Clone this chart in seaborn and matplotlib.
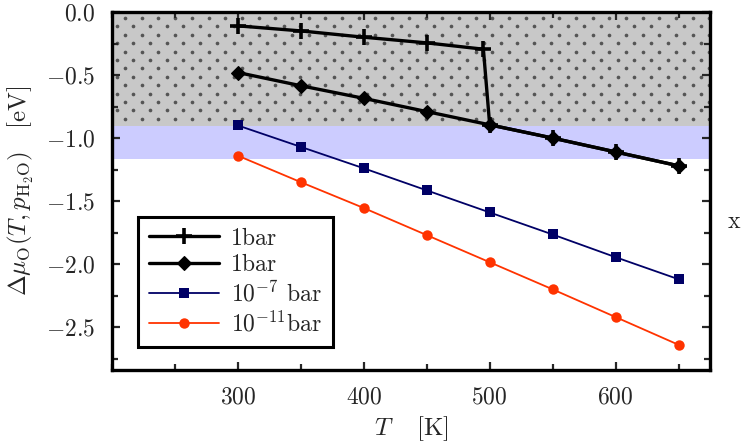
import matplotlib
matplotlib.use("Agg")
import matplotlib.pyplot as plt
import seaborn as sns
import numpy as np
from matplotlib.ticker import MultipleLocator, FuncFormatter

# Data
T_plus = [300, 350, 400, 450, 495, 500, 550, 600, 650]
mu_plus = [-0.11, -0.15, -0.20, -0.245, -0.295, -0.895, -1.00, -1.11, -1.22]
T_dia = [300, 350, 400, 450, 500, 550, 600, 650]
mu_dia = [-0.48, -0.585, -0.685, -0.79, -0.895, -1.00, -1.11, -1.22]
T_sq = [300, 350, 400, 450, 500, 550, 600, 650]
mu_sq = [-0.90, -1.07, -1.24, -1.415, -1.59, -1.765, -1.945, -2.12]
T_circ = [300, 350, 400, 450, 500, 550, 600, 650]
mu_circ = [-1.14, -1.35, -1.555, -1.77, -1.985, -2.20, -2.42, -2.64]
labels = ["1bar", "1bar", r"$10^{-7}$ bar", r"$10^{-11}$bar"]

gray_band = (-0.905, 0.0)
blue_band = (-1.167, -0.905)

sns.set_style("ticks")
plt.rcParams["font.family"] = "serif"
plt.rcParams["font.serif"] = ["cmr10", "DejaVu Serif"]
plt.rcParams["mathtext.fontset"] = "cm"
plt.rcParams["axes.formatter.use_mathtext"] = True

W, H = 743, 448
fig = plt.figure(figsize=(W / 100, H / 100), dpi=100)
ax_l, ax_b, ax_w, ax_h = 112 / W, 1 - 370 / H, 598 / W, 358 / H
ax = fig.add_axes([ax_l, ax_b, ax_w, ax_h])

ylim = (-2.84, 0.0)
ax.axhspan(*gray_band, facecolor="#c8c8c8", edgecolor="none", linewidth=0, zorder=0)
ax.axhspan(*blue_band, facecolor="#ccccff", edgecolor="none", linewidth=0, zorder=0)

# decorative dot texture for the gray band (staggered grid, in axes-fraction units)
px_w, px_h = 598.0, 358.0
dx, dy = 16.7, 8.4
rows = np.arange(6.0, px_h, dy)
xs, ys = [], []
for i, r in enumerate(rows):
    start = 13.0 if i % 2 == 0 else 13.0 - dx / 2
    c = np.arange(start, px_w, dx)
    xs.append(c)
    ys.append(np.full_like(c, r))
xs = np.concatenate(xs) / px_w
ys = 1 - np.concatenate(ys) / px_h
band_bottom_frac = (gray_band[0] - ylim[0]) / (ylim[1] - ylim[0])
keep = ys > band_bottom_frac + 2.0 / px_h
ax.scatter(xs[keep], ys[keep], s=7, color="#555555", linewidths=0,
           transform=ax.transAxes, zorder=0.5, clip_on=True)

sns.lineplot(x=T_plus, y=mu_plus, ax=ax, color="black", lw=2.4, marker="+", markersize=11,
             markeredgewidth=2.6, markeredgecolor="black",
             estimator=None, sort=False, label=labels[0], zorder=3)
sns.lineplot(x=T_dia, y=mu_dia, ax=ax, color="black", lw=2.4, marker="D", markersize=7,
             markeredgewidth=0.8, markeredgecolor="black", markerfacecolor="black",
             estimator=None, sort=False, label=labels[1], zorder=3)
sns.lineplot(x=T_sq, y=mu_sq, ax=ax, color="#000066", lw=1.3, marker="s", markersize=7.5,
             markeredgewidth=0, markeredgecolor="#000066", markerfacecolor="#000066",
             estimator=None, sort=False, label=labels[2], zorder=3)
sns.lineplot(x=T_circ, y=mu_circ, ax=ax, color="#ff3300", lw=1.3, marker="o", markersize=7.5,
             markeredgewidth=0, markeredgecolor="#ff3300", markerfacecolor="#ff3300",
             estimator=None, sort=False, label=labels[3], zorder=3)

ax.set_xlim(200, 675)
ax.set_ylim(*ylim)
ax.xaxis.set_minor_locator(MultipleLocator(50))
ax.yaxis.set_major_locator(MultipleLocator(0.5))
ax.yaxis.set_minor_locator(MultipleLocator(0.25))
ax.set_xticks([300, 400, 500, 600])
ax.yaxis.set_major_formatter(FuncFormatter(lambda v, p: r"$%.1f$" % v if abs(v) > 1e-9 else r"$0.0$"))
ax.xaxis.set_major_formatter(FuncFormatter(lambda v, p: r"$%d$" % v))
ax.tick_params(which="both", direction="in", top=True, right=True, width=1.6, labelsize=17, pad=12)
ax.tick_params(which="major", length=6)
ax.tick_params(which="minor", length=4)
for s in ax.spines.values():
    s.set_linewidth(2.4)
    s.set_color("black")
    s.set_zorder(5)

ax.set_xlabel(r"$T\quad\;[\mathrm{K}]$", fontsize=18, labelpad=4)
ax.set_ylabel(r"$\Delta\mu_{\rm O}(T,p_{\rm H_2O})\quad[\mathrm{eV}]$", fontsize=18, labelpad=7)

leg = ax.legend(loc="lower left", bbox_to_anchor=(26 / 598, 23 / 358), borderaxespad=0,
                fontsize=17, frameon=True, fancybox=False, handlelength=3.0, borderpad=0.45,
                labelspacing=0.2, handletextpad=0.5)
leg.get_frame().set_edgecolor("black")
leg.get_frame().set_linewidth(2.2)
leg.get_frame().set_alpha(1)

fig.text(728 / W, 1 - 222 / H, "x", fontsize=17, ha="left", va="center")

fig.savefig("out.png", dpi=100)
